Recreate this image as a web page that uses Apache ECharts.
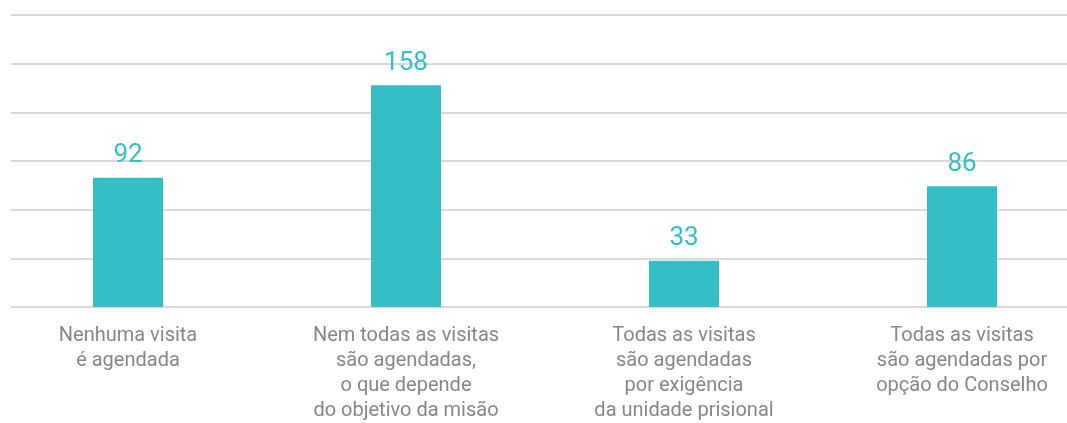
<!DOCTYPE html>
<html>
<head>
<meta charset="utf-8">
<script src="https://cdn.jsdelivr.net/npm/echarts@6/dist/echarts.min.js"></script>
<style>
  html, body { margin: 0; padding: 0; background: #fff; }
  #bc { width: 1067px; height: 423px; }
</style>
</head>
<body>
<div id="bc"></div>
<script>
const categories = [
  'Nenhuma visita\né agendada',
  'Nem todas as visitas\nsão agendadas,\no que depende\ndo objetivo da misão',
  'Todas as visitas\nsão agendadas\npor exigência\nda unidade prisional',
  'Todas as visitas\nsão agendadas por\nopção do Conselho'
]
const values = [92, 158, 33, 86]

const chart = echarts.init(document.getElementById('bc'))
chart.setOption({
  animation: false,
  grid: [
    // fundo com as linhas horizontais
    { left: 11, right: 0, top: 15, bottom: 116, outerBoundsMode: 'none' },
    // barras (a faixa das categorias passa da borda)
    { left: -11, right: -34, top: 15, bottom: 116, outerBoundsMode: 'none' }
  ],
  xAxis: [
    { gridIndex: 0, type: 'value', show: false },
    {
      gridIndex: 1,
      type: 'category',
      data: categories,
      axisLine: { show: false },
      axisTick: { show: false },
      axisLabel: {
        color: '#878787',
        fontFamily: 'Roboto',
        fontSize: 20,
        lineHeight: 25,
        margin: 16,
        interval: 0
      }
    }
  ],
  yAxis: [
    {
      gridIndex: 0,
      type: 'value',
      min: 0,
      max: 6,
      interval: 1,
      axisLabel: { show: false },
      axisLine: { show: false },
      axisTick: { show: false },
      splitLine: { lineStyle: { color: '#d9d9d9', width: 2 } }
    },
    {
      gridIndex: 1,
      type: 'value',
      min: 0,
      max: 208,
      show: false,
      splitLine: { show: false }
    }
  ],
  series: [{
    type: 'bar',
    xAxisIndex: 1,
    yAxisIndex: 1,
    data: values,
    barWidth: 70,
    itemStyle: { color: '#35bec6' },
    label: {
      show: true,
      position: 'top',
      distance: 9,
      color: '#35bec6',
      fontFamily: 'Roboto',
      fontSize: 26
    }
  }]
})
</script>
</body>
</html>
